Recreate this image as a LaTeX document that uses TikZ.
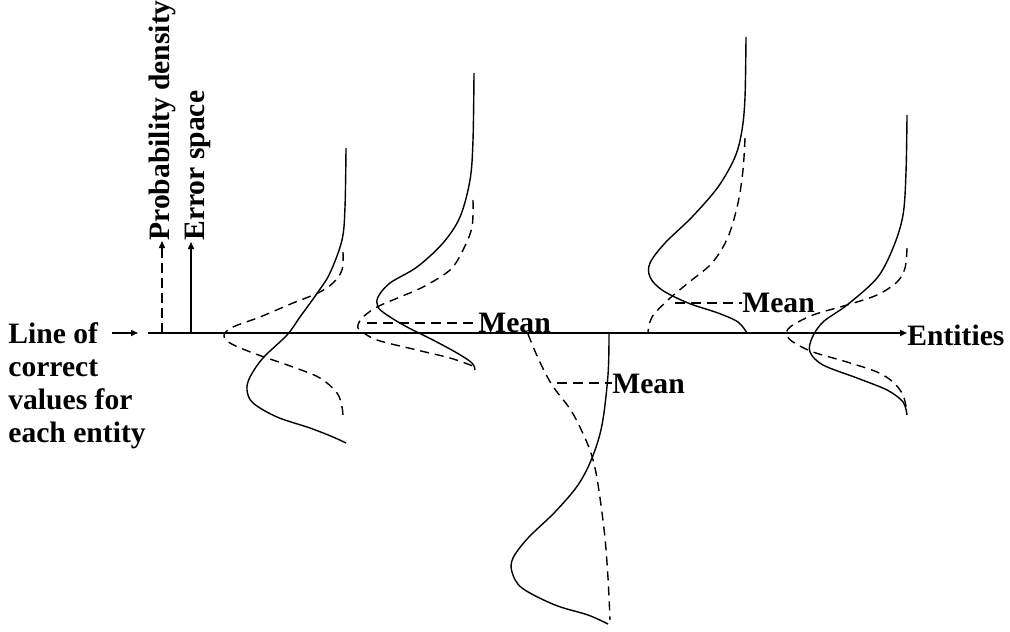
\documentclass[tikz,border=0pt]{standalone}
\usepackage{fontspec}
\setmainfont{Liberation Serif}
\usetikzlibrary{arrows.meta}
\begin{document}
\begin{tikzpicture}[x=0.5pt,y=-0.5pt,
  lbl/.style={font=\fontsize{14.8}{16.5}\selectfont\bfseries, inner sep=0pt},
  tip/.style={-{Triangle[length=3.5pt,width=3pt]}},
  curve/.style={line width=0.7pt, smooth, tension=0.55},
  dcurve/.style={curve, dash pattern=on 4.5pt off 3pt},
  meanline/.style={line width=0.75pt, dash pattern=on 5pt off 3pt},
  axisline/.style={line width=0.85pt}]
\useasboundingbox (0,0) rectangle (1010,631);

% labels
\node[lbl, align=left, anchor=north west] (lineof) at (8,322) {Line of\\correct\\values for\\each entity};
\node[lbl, anchor=west] (ent) at (907,335) {Entities};
\node[lbl, rotate=90, anchor=west] (pd) at (162,241) {Probability density};
\node[lbl, rotate=90, anchor=west] (es) at (198,241) {Error space};

% axes
\coordinate (axL) at (148,333);
\coordinate (la) at (112,333);
\coordinate (lb) at (138,333);
\coordinate (pdb) at (162,333);
\coordinate (esb) at (191,333);
\coordinate (est) at (191,242);
\draw[axisline, tip] (axL) -- (ent.west |- axL);
\draw[line width=0.75pt, tip] (la) -- (lb);
\draw[line width=0.75pt, dash pattern=on 5pt off 2.5pt, tip] (pdb) -- (pd.west);
\draw[line width=0.75pt, tip] (esb) -- (est);

% entity 1
\draw[curve] plot coordinates {(346,148) (345,207) (342,240) (330,273) (318,292) (300,317) (287,335) (263,358) (250,377) (247,390) (253,403) (277,417) (310,428) (333,437) (346,443)};
\draw[dcurve] plot coordinates {(343,252) (342,270) (333,283) (318,293) (293,303) (260,317) (233,327) (224,335) (230,343) (253,353) (293,367) (320,378) (337,393) (342,407) (343,417)};

% entity 2
\draw[curve] plot coordinates {(474,73) (473,140) (470,180) (460,217) (443,243) (417,267) (390,283) (378,297) (378,307) (387,315) (407,327) (433,340) (457,353) (472,363) (475,370)};
\draw[dcurve] plot coordinates {(473,200) (472,227) (463,250) (450,270) (423,287) (400,297) (377,307) (363,317) (358,325) (360,330) (377,340) (417,350) (450,358) (473,366)};
\node[lbl, anchor=west] (mean2) at (478,323) {Mean};
\coordinate (m2) at (367,323);
\draw[meanline] (m2) -- (mean2.west);

% entity 3
\draw[curve] plot coordinates {(609,333) (608,375) (602,425) (592,458) (578,485) (555,512) (528,538) (513,558) (512,572) (522,588) (555,605) (588,615) (608,624)};
\draw[dcurve] plot coordinates {(528,334) (538,358) (552,385) (572,412) (588,445) (595,468) (600,498) (605,538) (608,578) (610,620)};
\node[lbl, anchor=west] (mean3) at (612,384) {Mean};
\coordinate (m3) at (557,383);
\draw[meanline] (m3) -- (mean3.west |- m3);

% entity 4
\draw[curve] plot coordinates {(746,37) (745,97) (742,130) (735,157) (718,187) (692,217) (665,243) (650,263) (650,277) (662,290) (688,303) (718,313) (738,322) (747,333)};
\draw[dcurve] plot coordinates {(745,138) (743,170) (738,203) (728,237) (712,263) (688,283) (668,300) (652,317) (648,332)};
\node[lbl, anchor=west] (mean4) at (742,303) {Mean};
\coordinate (m4) at (675,303);
\draw[meanline] (m4) -- (mean4.west);

% entity 5
\draw[curve] plot coordinates {(907,115) (906,172) (903,215) (893,248) (877,278) (847,305) (823,322) (812,338) (810,352) (823,365) (857,378) (887,390) (903,402) (907,415)};
\draw[dcurve] plot coordinates {(907,248) (905,268) (897,282) (877,295) (847,305) (813,315) (790,327) (787,335) (793,342) (813,352) (847,362) (877,372) (893,382) (903,395) (907,412)};
\end{tikzpicture}
\end{document}
